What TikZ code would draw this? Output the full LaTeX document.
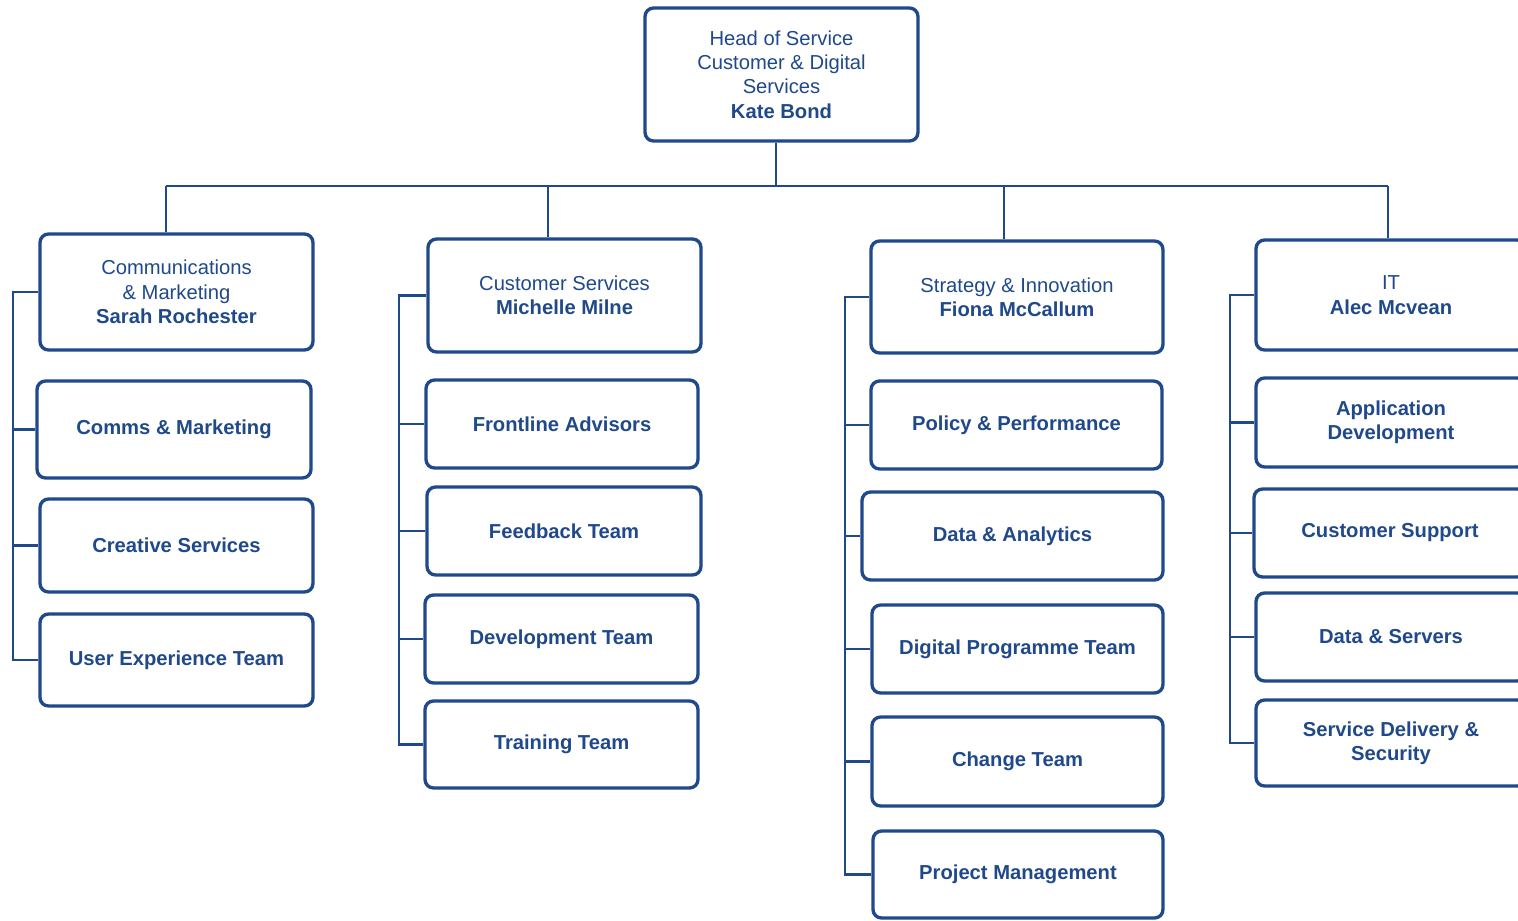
\documentclass[tikz,border=0pt]{standalone}
\usepackage{fontspec}
\setmainfont{Liberation Sans}
\definecolor{orgblue}{RGB}{31,73,138}
\tikzset{
  unitbox/.style={draw=orgblue, line width=1.9pt, rounded corners=0.17cm, fill=white,
    text=orgblue, align=center, inner sep=2pt, minimum width=5.46cm, minimum height=1.76cm,
    font=\fontsize{11.5pt}{13.9pt}\selectfont},
  link/.style={draw=orgblue, line width=1.2pt},
}
\begin{document}
\begin{tikzpicture}[x=0.02cm, y=-0.02cm]
\useasboundingbox (0,0) rectangle (1518,920);
\clip (0,0) rectangle (1518,920);

% head of service
\node[unitbox, minimum height=2.66cm] (head) at (781.5,74.5)
  {Head of Service\\Customer \& Digital\\Services\\\textbf{Kate Bond}};

% managers
\node[unitbox, minimum height=2.32cm] (comms) at (176.5,292)
  {Communications\\\& Marketing\\\textbf{Sarah Rochester}};
\node[unitbox, minimum height=2.26cm] (custserv) at (564.5,295.5)
  {Customer Services\\\textbf{Michelle Milne}};
\node[unitbox, minimum height=2.24cm, minimum width=5.84cm] (strategy) at (1017,297)
  {Strategy \& Innovation\\\textbf{Fiona McCallum}};
\node[unitbox, minimum height=2.2cm, minimum width=5.4cm] (it) at (1391,295)
  {IT\\\textbf{Alec Mcvean}};

% communications teams
\node[unitbox, minimum height=1.94cm, minimum width=5.48cm] (commsmkt) at (174,429.5) {\textbf{Comms \& Marketing}};
\node[unitbox, minimum height=1.86cm] (creative) at (176.5,545.5) {\textbf{Creative Services}};
\node[unitbox, minimum height=1.84cm] (ux) at (176.5,660) {\textbf{User Experience Team}};

% customer services teams
\node[unitbox, minimum width=5.44cm] (frontline) at (562,424) {\textbf{Frontline Advisors}};
\node[unitbox, minimum width=5.48cm] (feedback) at (564,531) {\textbf{Feedback Team}};
\node[unitbox] (devteam) at (561.5,639) {\textbf{Development Team}};
\node[unitbox, minimum height=1.74cm] (training) at (561.5,744.5) {\textbf{Training Team}};

% strategy teams
\node[unitbox, minimum width=5.82cm] (policy) at (1016.5,425) {\textbf{Policy \& Performance}};
\node[unitbox, minimum width=6.02cm] (analytics) at (1012.5,536) {\textbf{Data \& Analytics}};
\node[unitbox, minimum width=5.82cm] (digital) at (1017.5,649) {\textbf{Digital Programme Team}};
\node[unitbox, minimum width=5.82cm, minimum height=1.78cm] (change) at (1017.5,761.5) {\textbf{Change Team}};
\node[unitbox, minimum width=5.8cm, minimum height=1.74cm] (project) at (1018,874.5) {\textbf{Project Management}};

% IT teams
\node[unitbox, minimum width=5.4cm, minimum height=1.78cm] (appdev) at (1391,422.5) {\textbf{Application}\\\textbf{Development}};
\node[unitbox, minimum width=5.44cm] (support) at (1390,533) {\textbf{Customer Support}};
\node[unitbox, minimum width=5.4cm] (servers) at (1391,637) {\textbf{Data \& Servers}};
\node[unitbox, minimum width=5.4cm, minimum height=1.72cm] (delivery) at (1391,743) {\textbf{Service Delivery \&}\\\textbf{Security}};

% top bus
\coordinate (bus) at (776,186);
\coordinate (drop1) at (166,186);
\coordinate (drop2) at (548,186);
\coordinate (drop3) at (1004,186);
\coordinate (drop4) at (1388,186);
\draw[link] (head.south -| bus) -- (bus);
\draw[link] (drop1) -- (drop4);
\draw[link] (drop1) -- (drop1 |- comms.north);
\draw[link] (drop2) -- (drop2 |- custserv.north);
\draw[link] (drop3) -- (drop3 |- strategy.north);
\draw[link] (drop4) -- (drop4 |- it.north);

% side spines
\coordinate (spine1) at (13,0);
\coordinate (spine2) at (399,0);
\coordinate (spine3) at (845,0);
\coordinate (spine4) at (1230,0);
\draw[link] (comms.west) -- (comms.west -| spine1) |- (ux.west);
\foreach \t in {commsmkt,creative}
  \draw[link] (\t.west) -- (\t.west -| spine1);
\draw[link] (custserv.west) -- (custserv.west -| spine2) |- (training.west);
\foreach \t in {frontline,feedback,devteam}
  \draw[link] (\t.west) -- (\t.west -| spine2);
\draw[link] (strategy.west) -- (strategy.west -| spine3) |- (project.west);
\foreach \t in {policy,analytics,digital,change}
  \draw[link] (\t.west) -- (\t.west -| spine3);
\draw[link] (it.west) -- (it.west -| spine4) |- (delivery.west);
\foreach \t in {appdev,support,servers}
  \draw[link] (\t.west) -- (\t.west -| spine4);
\end{tikzpicture}
\end{document}
